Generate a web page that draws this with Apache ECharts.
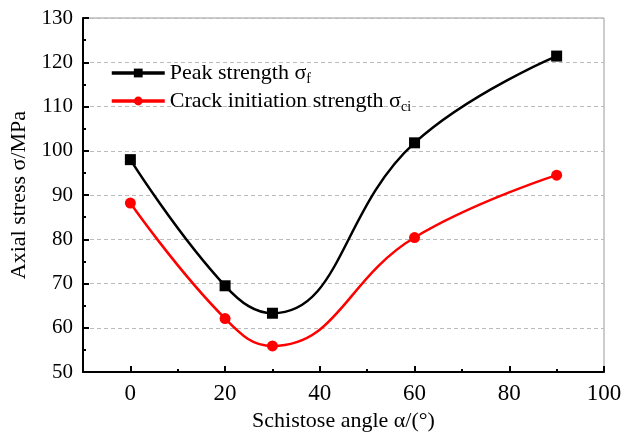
<!DOCTYPE html>
<html><head><meta charset="utf-8">
<script src="https://cdn.jsdelivr.net/npm/echarts@6/dist/echarts.min.js"></script>
<style>html,body{margin:0;padding:0;background:#fff}#c{width:625px;height:437px}</style>
</head><body><div id="c"></div>
<script>
const angles = [0, 20, 30, 60, 90];
const peakStrength = [98.0, 69.5, 63.3, 101.8, 121.4];
const crackStrength = [88.2, 62.1, 55.9, 80.4, 94.5];
const xMajorTicks = [0, 20, 40, 60, 80, 100];
const xMinorTicks = [10, 30, 50, 70, 90];

const font = 'Liberation Serif, Times New Roman, serif';
const chart = echarts.init(document.getElementById('c'));
const pair = (xs, ys) => xs.map((x, i) => [x, ys[i]]);
chart.setOption({
  animation: false,
  grid: {left: 82, right: 21, top: 18, bottom: 58, show: true, borderColor: '#999', borderWidth: 1},
  legend: {
    orient: 'vertical', left: 105, top: 57, itemGap: 4, itemWidth: 53, itemHeight: 11,
    lineStyle: {width: 3.5},
    textStyle: {fontFamily: font, fontSize: 22, color: '#000',
      rich: {a: {fontFamily: font, fontSize: 22, color: '#000'},
             s: {fontFamily: font, fontSize: 14, color: '#000', padding: [12, 0, 0, 0]}}},
    formatter: n => n === 'peak' ? '{a|Peak strength σ}{s|f}' : '{a|Crack initiation strength σ}{s|ci}',
    data: ['peak', 'crack']
  },
  xAxis: [{
    type: 'value', min: -10, max: 100,
    name: 'Schistose angle α/(°)', nameLocation: 'middle', nameGap: 37,
    nameTextStyle: {fontFamily: font, fontSize: 22, color: '#000'},
    axisLine: {onZero: false, lineStyle: {color: '#000', width: 2}},
    axisTick: {inside: true, length: 6, lineStyle: {color: '#000', width: 2}, customValues: xMajorTicks},
    axisLabel: {fontFamily: font, fontSize: 23, color: '#000', margin: 10, customValues: xMajorTicks},
    splitLine: {show: false}
  }, {
    type: 'value', min: -10, max: 100, position: 'bottom',
    axisLine: {show: false, onZero: false},
    axisTick: {inside: true, length: 3, lineStyle: {color: '#000', width: 2}, customValues: xMinorTicks},
    axisLabel: {show: false}, splitLine: {show: false}
  }],
  yAxis: {
    type: 'value', min: 50, max: 130, interval: 10,
    name: 'Axial stress σ/MPa', nameLocation: 'middle', nameGap: 53,
    nameTextStyle: {fontFamily: font, fontSize: 22, color: '#000'},
    axisLine: {show: true, onZero: false, lineStyle: {color: '#000', width: 2}},
    axisTick: {show: true, inside: true, length: 6, lineStyle: {color: '#000', width: 2}},
    minorTick: {show: true, splitNumber: 2, length: 3, lineStyle: {color: '#000', width: 2}},
    axisLabel: {fontFamily: font, fontSize: 21, color: '#000', margin: 10},
    splitLine: {show: true, lineStyle: {color: '#bbb', type: [4, 3], width: 1}}
  },
  series: [{
    name: 'peak', type: 'line', smooth: 0.45, data: pair(angles, peakStrength),
    symbol: 'rect', symbolSize: 11, color: '#000', lineStyle: {width: 2.5, color: '#000'}
  }, {
    name: 'crack', type: 'line', smooth: 0.45, data: pair(angles, crackStrength),
    symbol: 'circle', symbolSize: 11, color: '#ff0000', lineStyle: {width: 2.5, color: '#ff0000'}
  }]
});
</script></body></html>
